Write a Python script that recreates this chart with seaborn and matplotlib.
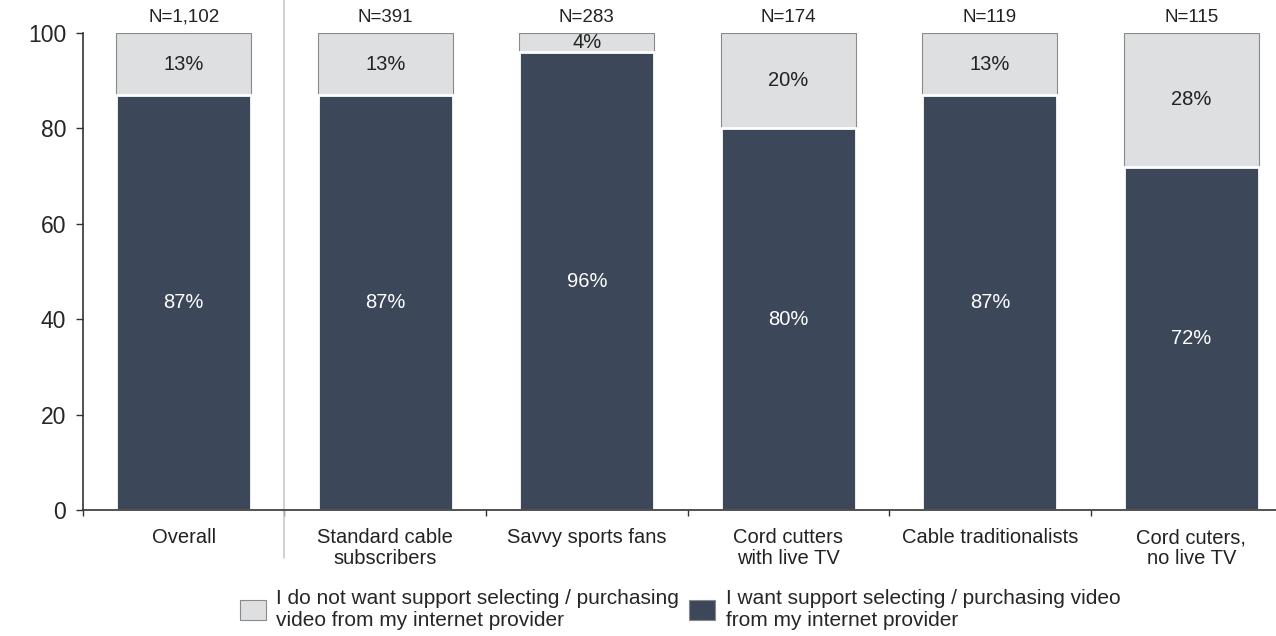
import matplotlib
matplotlib.use("Agg")
import matplotlib.pyplot as plt
import matplotlib.patches as mpatches
import seaborn as sns
import pandas as pd

# data
categories = ["Overall", "Standard cable\nsubscribers", "Savvy sports fans",
              "Cord cutters\nwith live TV", "Cable traditionalists", "Cord cuters,\nno live TV"]
sample_sizes = ["N=1,102", "N=391", "N=283", "N=174", "N=119", "N=115"]
want_support = [87, 87, 96, 80, 87, 72]
no_support = [13, 13, 4, 20, 13, 28]
legend_labels = ["I do not want support selecting / purchasing\nvideo from my internet provider",
                 "I want support selecting / purchasing video\nfrom my internet provider"]

DARK = "#3c4859"
LIGHT = "#dedfe0"

sns.set_style("white")
plt.rcParams["font.family"] = ["Liberation Sans", "DejaVu Sans"]

df = pd.DataFrame({"group": categories, "want": want_support, "no": no_support})
df["total"] = df["want"] + df["no"]

fig = plt.figure(figsize=(12.76, 6.36), dpi=100)
ax = fig.add_axes([0.065, 0.198, 0.935, 0.75])

sns.barplot(data=df, x="group", y="total", color=LIGHT, width=0.67,
            edgecolor="#8a8a8a", linewidth=0.8, saturation=1, ax=ax)
sns.barplot(data=df, x="group", y="want", color=DARK, width=0.67,
            edgecolor="white", linewidth=2.0, saturation=1, ax=ax)

# value labels
for i, row in df.iterrows():
    ax.text(i, row["want"] / 2, f"{row['want']}%", ha="center", va="center",
            color="white", fontsize=14.5)
    ax.text(i, row["want"] + row["no"] / 2, f"{row['no']}%", ha="center", va="center",
            color="#222222", fontsize=14.5)
    ax.text(i, row["total"] + 1.5, sample_sizes[i], ha="center", va="bottom",
            color="#222222", fontsize=13.5)

ax.set_ylim(0, 100)
ax.set_xlim(-0.5, 5.42)
ax.set_yticks([0, 20, 40, 60, 80, 100])
ax.set_xlabel("")
ax.set_ylabel("")
ax.tick_params(axis="y", labelsize=16.5, length=5, width=1, color="#333333", pad=7, left=True)
ax.tick_params(axis="x", labelsize=14.5, length=0, pad=13)
ax.set_xticks(range(len(categories)))
ax.set_xticklabels(categories, color="#222222", linespacing=1.1)
# small ticks at category boundaries
ax.set_xticks([b + 0.5 for b in range(-1, len(categories) - 1)], minor=True)
ax.tick_params(axis="x", which="minor", length=4, width=1, color="#333333", bottom=True)

for side in ["top", "right"]:
    ax.spines[side].set_visible(False)
for side in ["left", "bottom"]:
    ax.spines[side].set_color("#333333")
    ax.spines[side].set_linewidth(1.2)

# divider between Overall and segments
ax.axvline(0.5, ymin=-0.1, ymax=1.07, color="#c8c8c8", linewidth=1.2, clip_on=False)

handles = [mpatches.Patch(facecolor=LIGHT, edgecolor="#8a8a8a", linewidth=0.8),
           mpatches.Patch(facecolor=DARK, edgecolor="#8a8a8a", linewidth=0.8)]
fig.legend(handles, legend_labels, loc="lower center", ncol=2, bbox_to_anchor=(0.533, -0.02),
           frameon=False, fontsize=15, handlelength=1.25, handleheight=1.15,
           columnspacing=0.5, handletextpad=0.5, labelspacing=0.2)

fig.savefig("out.png", dpi=100)
